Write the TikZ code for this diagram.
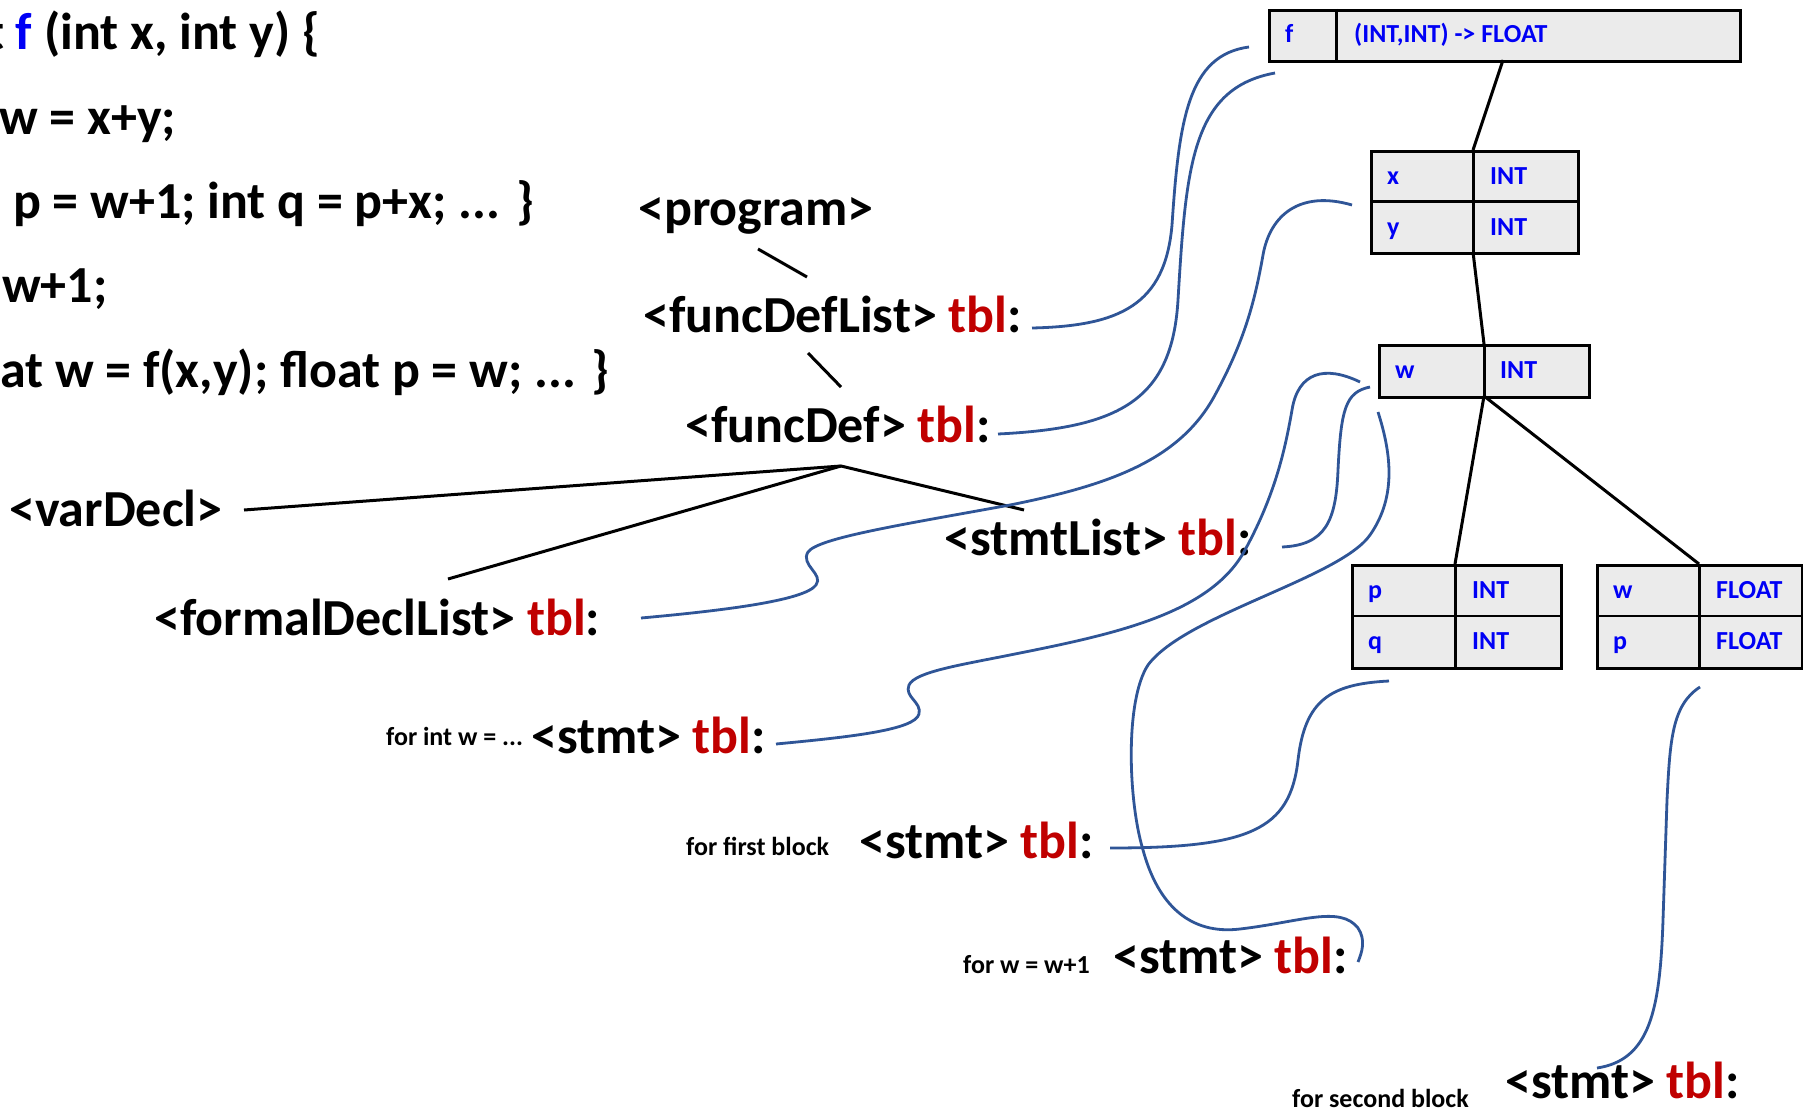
\documentclass[tikz,border=0pt]{standalone}
\usepackage{fontspec}
\setmainfont{Carlito}
\definecolor{tblred}{RGB}{192,0,0}
\definecolor{linkblue}{RGB}{47,85,151}
\definecolor{typeblue}{RGB}{0,0,245}
\definecolor{cellgray}{RGB}{235,235,235}
\newcommand{\tblmark}{\textcolor{tblred}{tbl}:}
\tikzset{
  big/.style={font=\fontsize{52}{52}\selectfont\bfseries, inner sep=0pt, anchor=base west},
  note/.style={font=\fontsize{26}{26}\selectfont\bfseries, inner sep=0pt, anchor=base west},
  cell/.style={draw=black, line width=3pt, fill=cellgray, inner sep=0pt, anchor=north west},
  sep/.style={draw=black, line width=3pt},
  thinsep/.style={draw=black, line width=2pt},
  ctext/.style={font=\fontsize{26}{26}\selectfont\bfseries, text=typeblue, inner sep=0pt, anchor=base west},
  tree/.style={draw=black, line width=3pt},
  link/.style={draw=linkblue, line width=2.8pt},
}
\begin{document}
\begin{tikzpicture}[x=1pt,y=-1pt]
\clip (0,0) rectangle (1803,1113);
\fill[white] (0,0) rectangle (1803,1113);

% source code
\node[big] (c1) at (-14,50) {t \textcolor{typeblue}{f} (int x, int y) \{};
\node[big] (c2) at (-1,135) {w = x+y;};
\node[big] (c3) at (13,218) {p = w+1; int q = p+x; ... \}};
\node[big] (c4) at (2,302) {w+1;};
\node[big] (c5) at (0,387) {at w = f(x,y); float p = w; ... \}};

% parse tree
\node[big] (prog)  at (638,225) {<program>};
\node[big] (fdl)   at (643,332) {<funcDefList> \tblmark};
\node[big] (fd)    at (685,442) {<funcDef> \tblmark};
\node[big] (vd)    at (9,526)   {<varDecl>};
\node[big] (fdecl) at (154,635) {<formalDeclList> \tblmark};
\node[big] (sl)    at (944,555) {<stmtList> \tblmark};
\node[big] (s1)    at (531,753) {<stmt> \tblmark};
\node[note] (l1)   at (386,745) {for int w = ...};
\node[big] (s2)    at (859,858) {<stmt> \tblmark};
\node[note] (l2)   at (686,855) {for first block};
\node[big] (s3)    at (1113,973) {<stmt> \tblmark};
\node[note] (l3)   at (963,973) {for w = w+1};
\node[big] (s4)    at (1505,1098) {<stmt> \tblmark};
\node[note] (l4)   at (1292,1107) {for second block};

\coordinate (progB) at (758,249);
\coordinate (fdlT)  at (807,277);
\coordinate (fdlB)  at (808,353);
\coordinate (fdT)   at (841,387);
\coordinate (hub)   at (841,466);
\coordinate (vdE)   at (244,510);
\coordinate (fdeclT) at (448,579);
\coordinate (slT)   at (1024,510);
\draw[tree] (progB) -- (fdlT);
\draw[tree] (fdlB) -- (fdT);
\draw[tree] (vdE) -- (hub) -- (slT);
\draw[tree] (fdeclT) -- (hub);

% symbol tables
\node[cell, minimum width=471pt, minimum height=51pt] (ftab) at (1268,9) {};
\draw[sep] (1336,9) -- (1336,60);
\node[ctext] (fname) at (1285,43) {f};
\node[ctext] (ftype) at (1354,43) {(INT,INT) -> FLOAT};

\node[cell, minimum width=207pt, minimum height=102pt] (xytab) at (1370,150) {};
\draw[sep] (1473,150) -- (1473,252);
\draw[sep] (1370,201) -- (1577,201);
\node[ctext] (xn) at (1387,184) {x};
\node[ctext] (xt) at (1490,184) {INT};
\node[ctext] (yn) at (1387,235) {y};
\node[ctext] (yt) at (1490,235) {INT};

\node[cell, minimum width=210pt, minimum height=52pt] (wtab) at (1378,344) {};
\draw[sep] (1484,344) -- (1484,396);
\node[ctext] (wn) at (1395,378.5) {w};
\node[ctext] (wt) at (1500,378.5) {INT};

\node[cell, minimum width=209pt, minimum height=103pt] (pqtab) at (1351,564) {};
\draw[sep] (1455,564) -- (1455,667);
\draw[thinsep] (1351,615.5) -- (1560,615.5);
\node[ctext] (pn) at (1368,598.5) {p};
\node[ctext] (pt) at (1472,598.5) {INT};
\node[ctext] (qn) at (1368,649.5) {q};
\node[ctext] (qt) at (1472,649.5) {INT};

\node[cell, minimum width=205pt, minimum height=103pt] (wptab) at (1596,564) {};
\draw[sep] (1699,564) -- (1699,667);
\draw[thinsep] (1596,615.5) -- (1801,615.5);
\node[ctext] (w2n) at (1613,598.5) {w};
\node[ctext] (w2t) at (1716,598.5) {FLOAT};
\node[ctext] (p2n) at (1613,649.5) {p};
\node[ctext] (p2t) at (1716,649.5) {FLOAT};

% scope chain
\coordinate (fB)   at (1503,60);
\coordinate (xyT)  at (1473,150);
\coordinate (xyB)  at (1473,252);
\coordinate (wT)   at (1484,344);
\coordinate (wB)   at (1484,396);
\coordinate (pqT)  at (1455,564);
\coordinate (wpT)  at (1699,564);
\draw[tree] (fB) -- (xyT);
\draw[tree] (xyB) -- (wT);
\draw[tree] (wB) -- (pqT);
\draw[tree] (wB) -- (wpT);

% links from tree nodes to their tables
\coordinate (a1) at (1032,328);  \coordinate (b1) at (1249,47);
\coordinate (a2) at (998,434);   \coordinate (b2) at (1275,73);
\coordinate (a3) at (641,618);   \coordinate (b3) at (1352,205);
\coordinate (a4) at (1282,547);  \coordinate (b4) at (1370,387);
\coordinate (a5) at (776,744);   \coordinate (b5) at (1360,382);
\coordinate (a6) at (1358,962);  \coordinate (b6) at (1378,412);
\coordinate (a7) at (1110,848);  \coordinate (b7) at (1389,681);
\coordinate (a8) at (1597,1068); \coordinate (b8) at (1700,687);

\draw[link] (a1) .. controls (1120,326) and (1165,305) .. (1172,225)
                 .. controls (1179,120) and (1188,55) .. (b1);
\draw[link] (a2) .. controls (1120,428) and (1172,400) .. (1178,300)
                 .. controls (1186,165) and (1192,88) .. (b2);
\draw[link] (a3) .. controls (730,610) and (805,600) .. (816,585)
                 .. controls (824,574) and (800,565) .. (808,552)
                 .. controls (818,538) and (900,525) .. (1010,505)
                 .. controls (1110,485) and (1180,460) .. (1215,395)
                 .. controls (1245,340) and (1255,300) .. (1263,255)
                 .. controls (1270,215) and (1300,190) .. (b3);
\draw[link] (a4) .. controls (1325,545) and (1336,522) .. (1338,470)
                 .. controls (1341,410) and (1345,392) .. (b4);
\draw[link] (a5) .. controls (850,737) and (915,730) .. (919,714)
                 .. controls (922,702) and (904,697) .. (909,685)
                 .. controls (915,672) and (960,665) .. (1010,655)
                 .. controls (1110,635) and (1210,615) .. (1245,550)
                 .. controls (1275,495) and (1285,450) .. (1292,410)
                 .. controls (1298,372) and (1325,365) .. (b5);
\draw[link] (b6) .. controls (1390,450) and (1398,495) .. (1370,535)
                 .. controls (1340,578) and (1185,615) .. (1148,665)
                 .. controls (1125,700) and (1128,800) .. (1143,850)
                 .. controls (1158,905) and (1190,935) .. (1240,929)
                 .. controls (1300,922) and (1340,905) .. (1358,928)
                 .. controls (1366,940) and (1362,952) .. (a6);
\draw[link] (a7) .. controls (1250,848) and (1290,830) .. (1298,760)
                 .. controls (1305,700) and (1330,684) .. (b7);
\draw[link] (a8) .. controls (1650,1060) and (1660,1010) .. (1663,920)
                 -- (1667,800)
                 .. controls (1670,740) and (1672,705) .. (b8);
\end{tikzpicture}
\end{document}
